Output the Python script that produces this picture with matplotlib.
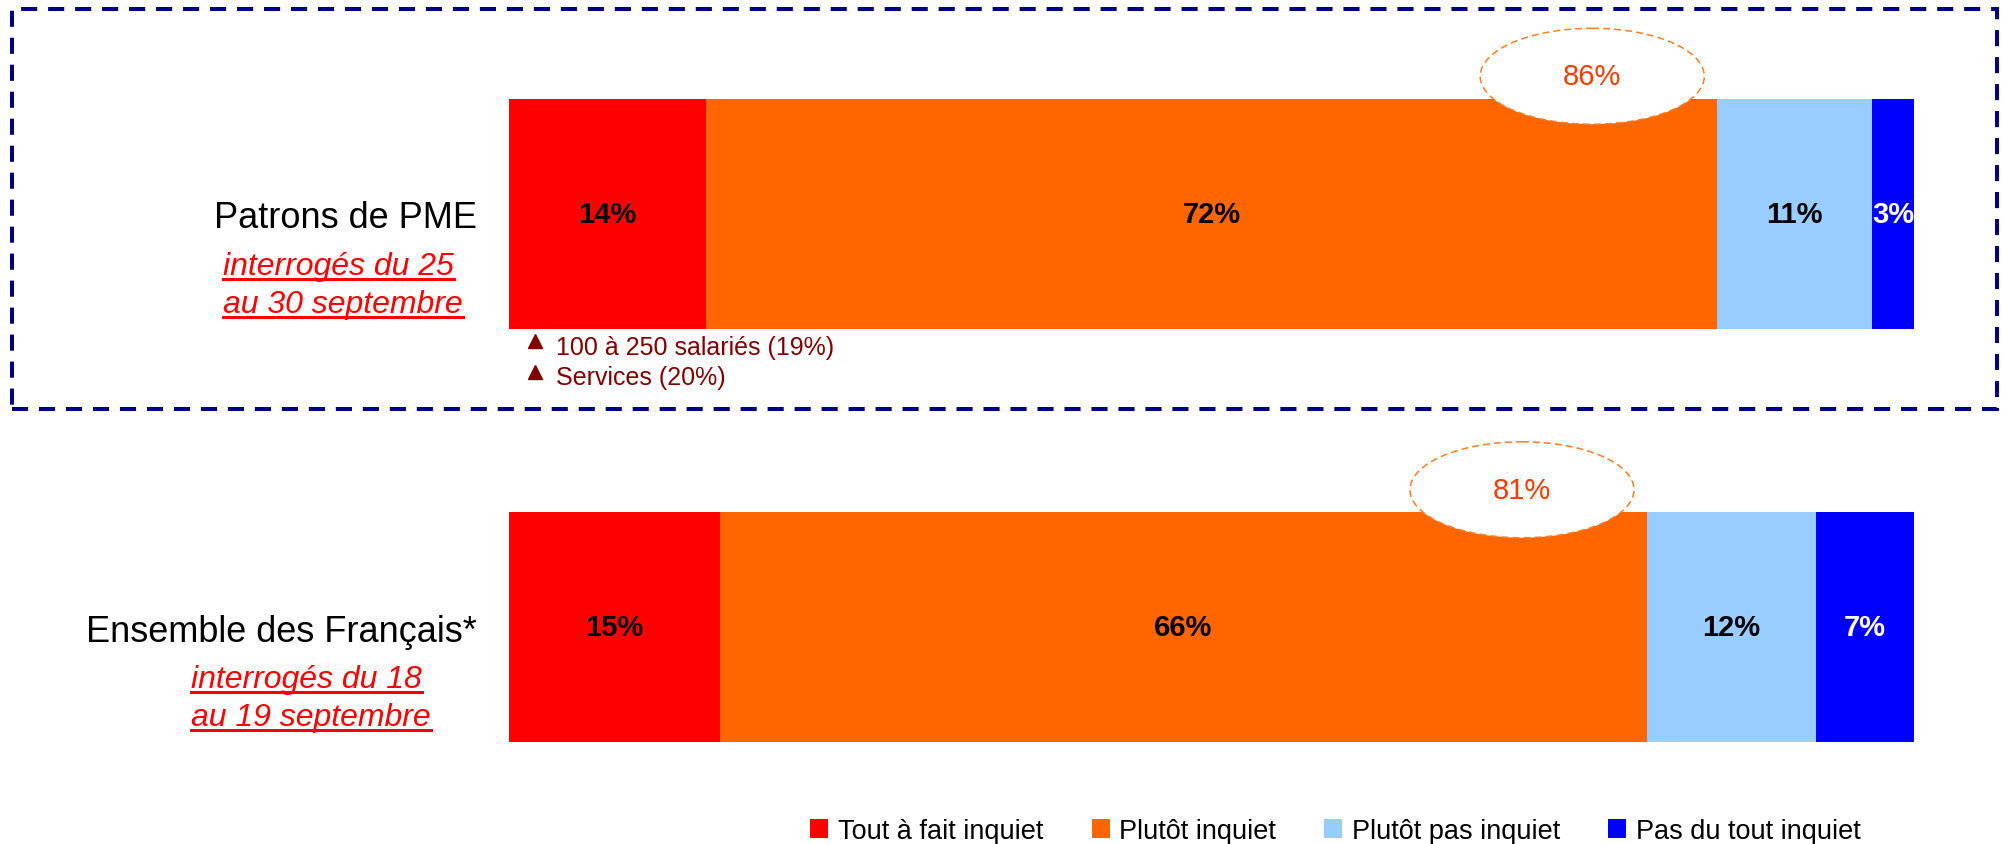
import matplotlib
matplotlib.use("Agg")
import matplotlib.pyplot as plt
import matplotlib.transforms as mtransforms
from matplotlib.patches import Ellipse, Rectangle
from matplotlib.lines import Line2D

# Data
groups = ["Patrons de PME", "Ensemble des Français*"]
subtitles = [["interrogés du 25", "au 30 septembre"],
             ["interrogés du 18", "au 19 septembre"]]
categories = ["Tout à fait inquiet", "Plutôt inquiet", "Plutôt pas inquiet", "Pas du tout inquiet"]
tout_a_fait = [14, 15]
plutot = [72, 66]
plutot_pas = [11, 12]
pas_du_tout = [3, 7]
total_inquiet = [86, 81]
notes_pme = ["100 à 250 salariés (19%)", "Services (20%)"]

colors = ["#FF0000", "#FF6600", "#99CCFF", "#0000FF"]
label_colors = ["black", "black", "black", "white"]

plt.rcParams['font.family'] = ['Liberation Sans', 'DejaVu Sans']

W, H = 2004, 845
fig = plt.figure(figsize=(W / 100, H / 100), dpi=100)
ax = fig.add_axes([509 / W, 1 - 743 / H, 1405 / W, 643 / H])
ax.set_xlim(0, 100)
ax.set_ylim(1.277, -0.278)
ax.axis('off')

# Stacked bars
series = [tout_a_fait, plutot, plutot_pas, pas_du_tout]
ypos = list(range(len(groups)))
left = [0] * len(groups)
bars = []
for vals, col, lab, tcol in zip(series, colors, categories, label_colors):
    cont = ax.barh(ypos, vals, left=left, height=0.557, color=col, label=lab, zorder=2)
    bars.append(cont)
    for y, v, l in zip(ypos, vals, left):
        ax.text(l + v / 2, y, f"{v}%", ha='center', va='center', fontsize=21,
                fontweight='bold', color=tcol, zorder=4)
    left = [a + v for a, v in zip(left, vals)]

# Total "inquiet" bubbles
for y, tot in zip(ypos, total_inquiet):
    cx = tot - 8.9
    e = Ellipse((cx, y - 0.333), 15.95, 0.232, facecolor='white', edgecolor='#FF7F2A',
                linestyle=(0, (4.5, 2.7)), lw=1.1, zorder=3, clip_on=False)
    ax.add_patch(e)
    ax.text(cx, y - 0.333, f"{tot}%", ha='center', va='center', fontsize=21,
            color='#FF3C00', zorder=4)

# Group labels + underlined subtitles
tr = mtransforms.blended_transform_factory(fig.transFigure, ax.transData)
sub_x = [223 / W, 191 / W]
sub_texts = []
for y, name, subs, sx in zip(ypos, groups, subtitles, sub_x):
    ax.text(477 / W, y + 0.032, name, transform=tr, ha='right', va='baseline', fontsize=26)
    for k, s in enumerate(subs):
        yb = y + 0.145 + k * 0.092
        t = ax.text(sx, yb, s, transform=tr, ha='left', va='baseline', fontsize=23,
                    style='italic', color='red')
        sub_texts.append((t, yb))

# Notes under the first bar
for k, note in enumerate(notes_pme):
    yb = 0.338 + k * 0.074
    ax.plot(1.86, yb - 0.03, marker='^', ms=10, color='#800000', clip_on=False)
    ax.text(3.36, yb, note, ha='left', va='baseline', fontsize=18, color='#800000')

# Dashed frame around the first group
box = Rectangle((11.7 / W, 1 - 410 / H), 1985 / W, 400 / H, transform=fig.transFigure,
                fill=False, edgecolor='#000080', lw=2.9, linestyle=(0, (4, 2.7)))
fig.add_artist(box)

fig.legend(handles=bars, labels=categories, loc='center',
           bbox_to_anchor=(1335.5 / W, 1 - 832 / H), ncol=4, frameon=False,
           fontsize=19.5, handlelength=0.67, handleheight=0.67, handletextpad=0.35,
           columnspacing=1.78, borderpad=0, borderaxespad=0)

# underline the subtitles
fig.canvas.draw()
renderer = fig.canvas.get_renderer()
inv = fig.transFigure.inverted()
for t, yb in sub_texts:
    bb = t.get_window_extent(renderer)
    ydisp = ax.transData.transform((0, yb))[1] - 5
    (x0, y0), (x1, _) = inv.transform([(bb.x0, ydisp), (bb.x1, ydisp)])
    fig.add_artist(Line2D([x0, x1], [y0, y0], transform=fig.transFigure, color='red', lw=2.2))

fig.savefig("out.png", dpi=100)
